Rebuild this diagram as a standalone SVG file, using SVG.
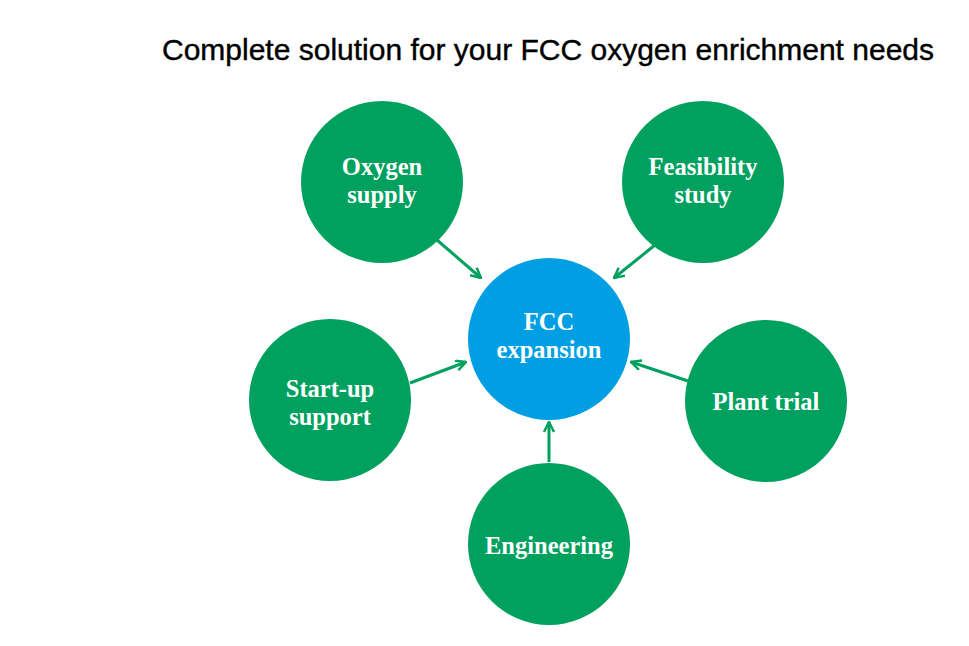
<svg xmlns="http://www.w3.org/2000/svg" width="969" height="646" viewBox="0 0 969 646">
<defs>
<style>
.g{fill:#00a05f}
.b{fill:#009fe3}
.t{font-family:"Liberation Serif","DejaVu Serif",serif;font-weight:bold;font-size:24.5px;fill:#fff;text-anchor:middle}
.c{stroke:#00a05f;stroke-width:3;fill:none}
.title{font-family:"Liberation Sans","Arial",sans-serif;font-size:30px;fill:#000;stroke:#000;stroke-width:0.4}
</style>
<marker id="ah" viewBox="0 0 12 12" refX="11" refY="6" markerWidth="12" markerHeight="12" markerUnits="userSpaceOnUse" orient="auto">
<path d="M1,1 L11,6 L1,11" fill="none" stroke="#00a05f" stroke-width="2.5"/>
</marker>
</defs>
<text class="title" x="162" y="60" textLength="772" lengthAdjust="spacingAndGlyphs">Complete solution for your FCC oxygen enrichment needs</text>
<g id="connectors">
<line class="c" x1="437" y1="240" x2="481" y2="278" marker-end="url(#ah)"/>
<line class="c" x1="655" y1="245" x2="614" y2="278" marker-end="url(#ah)"/>
<line class="c" x1="410" y1="383" x2="466" y2="362" marker-end="url(#ah)"/>
<line class="c" x1="688" y1="381" x2="631" y2="362" marker-end="url(#ah)"/>
<line class="c" x1="549" y1="462" x2="549" y2="422" marker-end="url(#ah)"/>
</g>
<g id="fcc"><circle class="b" cx="549" cy="339" r="81"/><text class="t" x="549" y="330">FCC</text><text class="t" x="549" y="358">expansion</text></g>
<g id="oxygen"><circle class="g" cx="382" cy="182" r="81"/><text class="t" x="382" y="175">Oxygen</text><text class="t" x="382" y="203">supply</text></g>
<g id="feasibility"><circle class="g" cx="703" cy="182" r="81"/><text class="t" x="703" y="175">Feasibility</text><text class="t" x="703" y="203">study</text></g>
<g id="startup"><circle class="g" cx="330" cy="400" r="81"/><text class="t" x="330" y="397">Start-up</text><text class="t" x="330" y="425">support</text></g>
<g id="plant"><circle class="g" cx="766" cy="401" r="81"/><text class="t" x="766" y="410">Plant trial</text></g>
<g id="engineering"><circle class="g" cx="549" cy="544" r="81"/><text class="t" x="549" y="554">Engineering</text></g>
</svg>
